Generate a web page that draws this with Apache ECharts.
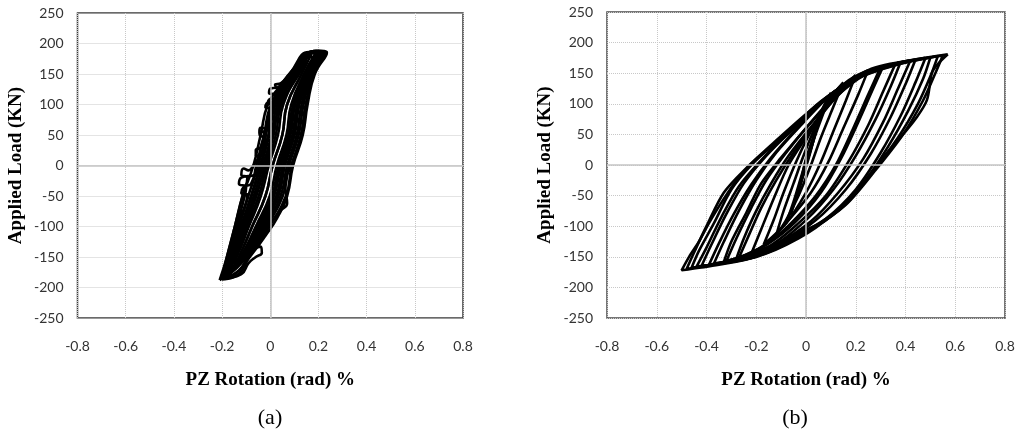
<!DOCTYPE html>
<html>
<head>
<meta charset="utf-8">
<script src="https://cdn.jsdelivr.net/npm/echarts@6/dist/echarts.min.js"></script>
<style>
  html, body { margin: 0; padding: 0; background: #fff; }
  #main { width: 1018px; height: 434px; }
</style>
</head>
<body>
<div id="main"></div>
<script>
// axis ticks
var xTicks = [-0.8, -0.6, -0.4, -0.2, 0, 0.2, 0.4, 0.6, 0.8];
var yTicks = [-250, -200, -150, -100, -50, 0, 50, 100, 150, 200, 250];

// (a) hysteresis loops, [rotation %, load kN]
var loopA1 = [[-0.2,-186],[-0.14,-176],[-0.085,-150],[-0.02,-115],[0.03,-85],[0.07,-50],[0.095,0],[0.135,50],[0.155,100],[0.185,150],[0.235,185],
  [0.2,188],[0.165,186],[0.1,160],[0.04,130],[-0.01,100],[-0.04,50],[-0.07,0],[-0.115,-50],[-0.147,-100],[-0.18,-150],[-0.2,-186]];
var loopA2 = [[-0.19,-184],[-0.15,-172],[-0.099,-150],[-0.022,-100],[0.043,-50],[0.07,0],[0.11,50],[0.13,100],[0.168,150],[0.22,186],
  [0.18,186],[0.1,150],[0.022,100],[-0.004,50],[-0.038,0],[-0.077,-50],[-0.118,-100],[-0.16,-150],[-0.19,-184]];
var loopA3 = [[-0.205,-186],[-0.16,-172],[-0.112,-150],[-0.045,-100],[0.016,-50],[0.044,0],[0.084,50],[0.104,100],[0.152,150],[0.2,186],
  [0.17,185],[0.085,150],[0.03,128],[0,126],[-0.005,119],[0.02,116],[0.01,105],[-0.015,102],[-0.02,95],[0.005,94],[0,80],
  [-0.031,55],[-0.045,55],[-0.04,48],[-0.02,47],[-0.035,20],[-0.05,12],[-0.05,5],[-0.03,5],[-0.062,-15],[-0.12,-20],[-0.13,-30],
  [-0.1,-35],[-0.106,-50],[-0.14,-100],[-0.175,-150],[-0.205,-186]];
var loopA4 = [[-0.18,-180],[-0.15,-168],[-0.121,-150],[-0.06,-100],[-0.002,-50],[0.027,0],[0.067,50],[0.087,100],[0.141,150],[0.19,184],
  [0.16,184],[0.115,150],[0.046,100],[0.023,50],[-0.014,0],[-0.048,-50],[-0.097,-100],[-0.145,-150],[-0.18,-180]];
var loopA5 = [[-0.195,-185],[-0.12,-178],[-0.09,-160],[-0.06,-150],[-0.035,-143],[-0.04,-133],[-0.06,-135],[-0.045,-128],[-0.007,-100],
  [0.04,-75],[0.07,-62],[0.065,-45],[0.061,-30],[0.087,0],[0.127,50],[0.147,100],[0.18,150],[0.23,186],
  [0.19,187],[0.12,150],[0.054,100],[0.032,50],[-0.006,0],[-0.039,-50],[-0.089,-100],[-0.14,-150],[-0.195,-185]];
var loopA6 = [[-0.2,-185],[-0.16,-170],[-0.108,-150],[-0.037,-100],[0.025,-50],[0.052,0],[0.092,50],[0.112,100],[0.157,150],[0.21,187],
  [0.175,187],[0.105,150],[0.03,100],[0.005,50],[-0.03,0],[-0.068,-50],[-0.111,-100],[-0.155,-150],[-0.2,-185]];
var loopA7 = [[-0.2,-183],[-0.165,-172],[-0.13,-150],[-0.075,-100],[-0.02,-50],[0.01,0],[0.05,50],[0.07,100],[0.13,150],[0.17,182],
  [0.14,180],[0.093,150],[0.01,100],[-0.018,50],[-0.05,0],[-0.091,-50],[-0.129,-100],[-0.168,-150],[-0.2,-183]];
var loopA8 = [[-0.17,-178],[-0.14,-165],[-0.103,-150],[-0.03,-100],[0.034,-50],[0.061,0],[0.101,50],[0.121,100],[0.163,150],[0.2,185],
  [0.17,184],[0.13,150],[0.07,100],[0.05,50],[0.01,0],[-0.02,-50],[-0.075,-100],[-0.13,-150],[-0.17,-178]];
var loopA9 = [[-0.19,-184],[-0.13,-172],[-0.094,-150],[-0.015,-100],[0.052,-50],[0.078,0],[0.118,50],[0.138,100],[0.174,150],[0.225,187],
  [0.19,188],[0.11,150],[0.038,100],[0.014,50],[-0.022,0],[-0.058,-50],[-0.104,-100],[-0.15,-150],[-0.19,-184]];
var loopA10 = [[-0.21,-188],[-0.16,-172],[-0.117,-150],[-0.052,-100],[0.007,-50],[0.035,0],[0.075,50],[0.095,100],[0.147,150],[0.19,186],
  [0.16,186],[0.08,150],[0.045,135],[0.02,132],[0.03,125],[0.04,122],[0.02,110],[-0.005,108],[-0.01,101],[0.01,100],[0,85],
  [-0.01,60],[-0.04,62],[-0.045,56],[-0.025,55],[-0.04,30],[-0.06,25],[-0.06,17],[-0.045,16],[-0.07,0],[-0.09,-8],[-0.11,-5],
  [-0.12,-15],[-0.095,-20],[-0.115,-50],[-0.147,-100],[-0.18,-150],[-0.21,-188]];
var loopA11 = [[-0.2,-186],[-0.15,-168],[-0.105,-150],[-0.034,-100],[0.03,-50],[0.057,0],[0.097,50],[0.117,100],[0.16,150],[0.215,186],
  [0.18,187],[0.088,150],[0.004,100],[-0.026,50],[-0.058,0],[-0.08,-30],[-0.11,-35],[-0.12,-45],[-0.095,-48],[-0.1,-60],
  [-0.137,-100],[-0.173,-150],[-0.2,-186]];
var loopA12 = [[-0.2,-187],[-0.13,-178],[-0.088,-150],[-0.004,-100],[0.065,-50],[0.09,0],[0.131,50],[0.151,100],[0.182,150],[0.232,186],
  [0.2,187],[0.098,150],[0.018,100],[-0.008,50],[-0.042,0],[-0.08,-50],[-0.122,-100],[-0.163,-150],[-0.2,-187]];
var loopA13 = [[-0.15,-160],[-0.1,-140],[-0.05,-100],[0.01,-50],[0.04,0],[0.08,50],[0.1,100],[0.14,150],[0.18,178],
  [0.14,176],[0.1,150],[0.04,100],[0.01,50],[-0.02,0],[-0.06,-50],[-0.1,-100],[-0.15,-160]];

// (b) hysteresis loops
var loopB0 = [[0.05,70],[0.03,40],[0,0],[-0.02,-30],[-0.04,-55],[-0.02,-25],[0,10],[0.03,45],[0.05,70]];
var loopB00 = [[0.07,95],[0.04,55],[0.01,10],[-0.03,-40],[-0.06,-80],[-0.03,-40],[0,0],[0.04,55],[0.07,95]];
var loopB1 = [[0.1,118],[0.07,85],[0.03,40],[0,0],[-0.03,-40],[-0.06,-75],[-0.08,-95],
  [-0.05,-60],[-0.02,-20],[0.01,20],[0.04,60],[0.07,95],[0.1,118]];
var loopB2 = [[0.15,135],[0.11,95],[0.06,45],[0.02,0],[-0.03,-50],[-0.08,-90],[-0.12,-115],
  [-0.09,-75],[-0.05,-30],[-0.01,15],[0.04,65],[0.09,105],[0.15,135]];
var loopB3 = [[0.2,147],[0.16,105],[0.11,55],[0.06,5],[0,-45],[-0.08,-95],[-0.17,-130],
  [-0.13,-90],[-0.09,-45],[-0.04,5],[0.02,55],[0.1,105],[0.2,147]];
var loopB4 = [[0.25,155],[0.21,115],[0.15,60],[0.09,5],[0.02,-45],[-0.08,-95],[-0.15,-125],[-0.22,-145],
  [-0.18,-105],[-0.13,-55],[-0.07,0],[0,45],[0.08,95],[0.16,135],[0.25,155]];
var loopB5 = [[0.3,160],[0.25,115],[0.19,60],[0.12,0],[0.04,-50],[-0.06,-95],[-0.16,-130],[-0.27,-152],
  [-0.23,-115],[-0.18,-70],[-0.12,-25],[-0.05,20],[0.04,70],[0.13,115],[0.22,145],[0.3,160]];
var loopB5b = [[0.31,161],[0.27,125],[0.21,70],[0.14,10],[0.06,-45],[-0.04,-92],[-0.15,-128],[-0.28,-153],
  [-0.25,-120],[-0.2,-75],[-0.14,-30],[-0.07,15],[0.02,62],[0.12,110],[0.21,142],[0.31,161]];
var loopB6 = [[0.36,166],[0.31,120],[0.25,65],[0.17,5],[0.08,-50],[-0.03,-95],[-0.15,-133],[-0.32,-157],
  [-0.28,-120],[-0.22,-70],[-0.16,-25],[-0.08,20],[0.02,70],[0.12,115],[0.24,150],[0.36,166]];
var loopB6b = [[0.38,168],[0.34,128],[0.28,75],[0.2,15],[0.11,-40],[0,-90],[-0.13,-131],[-0.33,-158],
  [-0.3,-125],[-0.24,-78],[-0.18,-30],[-0.1,12],[0,60],[0.11,108],[0.24,148],[0.38,168]];
var loopB7 = [[0.42,171],[0.37,125],[0.31,70],[0.23,10],[0.13,-45],[0.02,-92],[-0.12,-130],[-0.25,-152],[-0.37,-161],
  [-0.33,-125],[-0.27,-75],[-0.2,-25],[-0.12,20],[-0.02,65],[0.1,115],[0.25,155],[0.42,171]];
var loopB7b = [[0.44,172],[0.4,132],[0.34,78],[0.26,18],[0.16,-40],[0.04,-90],[-0.1,-128],[-0.24,-150],[-0.39,-163],
  [-0.35,-128],[-0.29,-80],[-0.22,-32],[-0.14,12],[-0.04,58],[0.08,108],[0.24,152],[0.44,172]];
var loopB8 = [[0.48,175],[0.44,135],[0.38,80],[0.3,20],[0.2,-40],[0.08,-88],[-0.06,-125],[-0.22,-152],[-0.42,-165],
  [-0.38,-130],[-0.32,-80],[-0.25,-30],[-0.16,15],[-0.05,60],[0.08,110],[0.25,153],[0.48,175]];
var loopB8b = [[0.5,176],[0.47,140],[0.41,88],[0.33,30],[0.23,-30],[0.11,-80],[-0.03,-120],[-0.2,-150],[-0.44,-166],
  [-0.4,-135],[-0.34,-85],[-0.27,-35],[-0.18,8],[-0.07,54],[0.06,104],[0.24,150],[0.5,176]];
var loopB9 = [[0.53,178],[0.5,145],[0.45,100],[0.37,45],[0.26,-15],[0.14,-70],[0,-108],[-0.18,-145],[-0.46,-168],
  [-0.43,-140],[-0.37,-95],[-0.3,-40],[-0.22,0],[-0.1,45],[0.04,95],[0.2,140],[0.36,163],[0.53,178]];
var loopB9b = [[0.55,179],[0.52,150],[0.47,105],[0.39,50],[0.28,-8],[0.16,-65],[0.02,-105],[-0.16,-143],[-0.48,-170],
  [-0.45,-143],[-0.4,-100],[-0.33,-45],[-0.24,-5],[-0.12,40],[0.02,90],[0.18,137],[0.36,164],[0.55,179]];
var loopB10 = [[0.57,181],[0.53,165],[0.506,150],[0.486,106],[0.44,75],[0.39,50],[0.285,0],[0.177,-57],[0.08,-90],[0,-106],
  [-0.105,-127],[-0.2,-150],[-0.35,-163],[-0.5,-172],
  [-0.47,-150],[-0.43,-125],[-0.39,-95],[-0.33,-55],[-0.27,-20],[-0.2,10],[-0.076,49],[0.03,90],[0.137,127],[0.22,148],
  [0.3,160],[0.43,172],[0.57,181]];

var loopsA = [loopA1, loopA2, loopA3, loopA4, loopA5, loopA6, loopA7, loopA8, loopA9, loopA10, loopA11, loopA12, loopA13];
var loopsB = [loopB0, loopB00, loopB1, loopB2, loopB3, loopB4, loopB5, loopB5b, loopB6, loopB6b,
  loopB7, loopB7b, loopB8, loopB8b, loopB9, loopB9b, loopB10];

var labelFont = 'Lato, "Open Sans", sans-serif';
var serif = '"Liberation Serif", "Times New Roman", serif';

function xAx(idx) {
  return {
    type: 'value', gridIndex: idx, min: -0.8, max: 0.8, interval: 0.2,
    name: 'PZ Rotation (rad) %', nameLocation: 'middle', nameGap: 53,
    nameTextStyle: { fontFamily: serif, fontWeight: 'bold', fontSize: 19, color: '#000' },
    axisLine: { show: false }, axisTick: { show: false },
    axisLabel: { margin: 21, fontFamily: labelFont, fontSize: 14, color: '#333',
      formatter: function (v) { return Math.round(v * 10) / 10 + ''; } },
    splitLine: { show: true, lineStyle: { type: 'dotted', color: '#c8c8c8', width: 1 } }
  };
}
function yAx(idx) {
  return {
    type: 'value', gridIndex: idx, min: -250, max: 250, interval: 50,
    name: 'Applied Load (KN)', nameLocation: 'middle', nameGap: 52, nameRotate: 90,
    nameTextStyle: { fontFamily: serif, fontWeight: 'bold', fontSize: 19, color: '#000' },
    axisLine: { show: false }, axisTick: { show: false },
    axisLabel: { margin: 14, fontFamily: labelFont, fontSize: 14, color: '#333' },
    splitLine: { show: true, lineStyle: { type: 'dotted', color: '#c8c8c8', width: 1 } }
  };
}

var series = [];
[loopsA, loopsB].forEach(function (loops, g) {
  // zero reference lines, behind data
  series.push({
    type: 'line', xAxisIndex: g, yAxisIndex: g, data: [], z: 1, silent: true,
    markLine: {
      silent: true, symbol: 'none', label: { show: false },
      lineStyle: { type: 'solid', color: '#c4c4c4', width: 1.5 },
      data: [{ xAxis: 0 }, { yAxis: 0 }]
    }
  });
  loops.forEach(function (loop) {
    series.push({
      type: 'line', xAxisIndex: g, yAxisIndex: g, data: loop, z: 3,
      smooth: g === 0 ? 0.5 : 0.3, showSymbol: false, animation: false,
      lineStyle: { color: '#000', width: 2.6 }
    });
  });
});

var myChart = echarts.init(document.getElementById('main'));
myChart.setOption({
  animation: false,
  grid: [
    { left: 77.5, right: 555, top: 13, bottom: 116, show: true, borderColor: '#3a3a3a', borderWidth: 1.5, backgroundColor: '#fff' },
    { left: 607, right: 13, top: 12, bottom: 116, show: true, borderColor: '#4a4a4a', borderWidth: 1.5, backgroundColor: '#fff' }
  ],
  xAxis: [xAx(0), xAx(1)],
  yAxis: [yAx(0), yAx(1)],
  graphic: [
    { type: 'text', x: 270, y: 418, style: { text: '(a)', align: 'center', verticalAlign: 'middle', font: '22px ' + serif, fill: '#000' } },
    { type: 'text', x: 795, y: 418, style: { text: '(b)', align: 'center', verticalAlign: 'middle', font: '22px ' + serif, fill: '#000' } }
  ],
  series: series
});
</script>
</body>
</html>
